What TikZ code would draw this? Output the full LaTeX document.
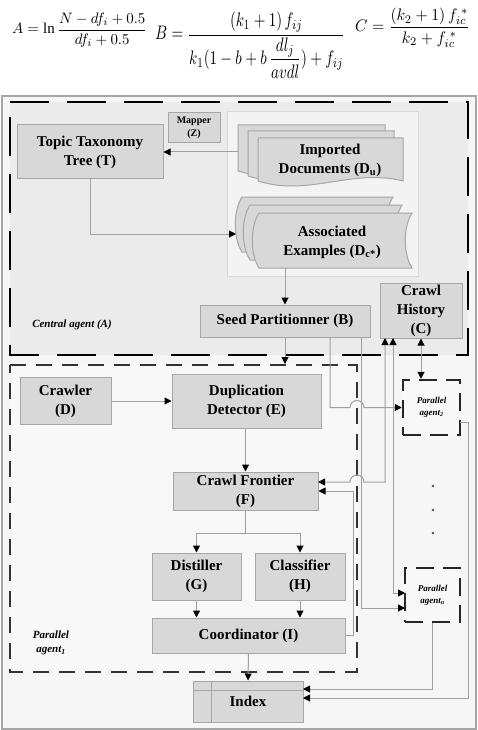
\documentclass[tikz,border=0pt]{standalone}
\usepackage{amsmath}
\usepackage{fontspec}
\setmainfont{Liberation Serif}
\usepackage{graphicx}
\usetikzlibrary{arrows.meta,calc}
\definecolor{boxfill}{HTML}{D8D8D8}
\definecolor{boxline}{HTML}{A6A6A6}
\definecolor{connc}{HTML}{A0A0A0}
\definecolor{centralfill}{HTML}{EBEBEB}
\definecolor{outerfill}{HTML}{F6F6F6}
\definecolor{agentfill}{HTML}{F8F8F8}
\definecolor{docarea}{HTML}{F3F3F3}
\newcommand\docsh[4]{\filldraw[docst] (#1,#2) -- (#3,#2) -- (#3,#4) .. controls +(-51,-13) and +(51,16) .. (#1,#4) -- cycle;}
\newcommand\stsh[4]{\filldraw[docst] ({#1+9},#2) -- (#3,#2) .. controls +(-9,14) and +(-9,-14) .. (#3,#4) -- ({#1+9},#4) .. controls +(-9,-14) and +(-9,14) .. ({#1+9},#2) -- cycle;}
\begin{document}
\begin{tikzpicture}[x=1pt,y=-1pt,
  >={Triangle[length=7pt,width=7pt,color=black]},
  box/.style={draw=boxline,fill=boxfill,line width=1pt,inner sep=0pt,align=center,
    font=\fontsize{15}{19}\selectfont\bfseries},
  docst/.style={draw=boxline,fill=boxfill,line width=1pt},
  conn/.style={draw=connc,line width=1pt},
  pbox/.style={draw=black!85,fill=agentfill,line width=2.5pt,dash pattern=on 18pt off 9pt,
    inner sep=0pt,align=center,font=\fontsize{9}{12}\selectfont\bfseries\itshape},
  lbl/.style={inner sep=0pt,align=center,font=\fontsize{11}{14}\selectfont\bfseries\itshape}]
\useasboundingbox (0,0) rectangle (478,730);
\fill[white] (0,0) rectangle (478,730);
% formulas
\node[anchor=west,inner sep=0pt] (fa) at (12,30) {\resizebox*{135pt}{34pt}{$\displaystyle A=\ln\frac{N-df_i+0.5}{df_i+0.5}$}};
\node[anchor=west,inner sep=0pt] (fb) at (155,45) {\resizebox*{190pt}{66pt}{$\displaystyle B=\frac{(k_1+1)\,f_{ij}}{k_1(1-b+b\,\dfrac{dl_j}{avdl})+f_{ij}}$}};
\node[anchor=west,inner sep=0pt] (fc) at (355,28) {\resizebox*{115pt}{40pt}{$\displaystyle C=\frac{(k_2+1)\,f_{ic}^{\;*}}{k_2+f_{ic}^{\;*}}$}};
% backgrounds
\filldraw[fill=outerfill,draw=boxline,line width=1.5pt] (2,96) rectangle (476,729);
\fill[centralfill] (10,102) rectangle (468,355);
\filldraw[fill=docarea,draw=gray!30,line width=1pt] (227,112) rectangle (418,276);
\fill[agentfill] (10,365) rectangle (357,672);
\draw[black,line width=2.5pt,dash pattern=on 39pt off 18pt] (10,102) -- (468,102) -- (468,355) -- (10,355) -- cycle;
\draw[black!80,line width=2.5pt,dash pattern=on 16pt off 10pt] (10,365) -- (357,365) -- (357,672) -- (10,672) -- cycle;
% document stacks
\docsh{238}{125}{385}{171}
\docsh{248}{131}{394}{176}
\docsh{258}{138}{403}{181}
\stsh{233}{197}{393}{252}
\stsh{241}{205}{402}{260}
\stsh{250}{213}{412}{268}
\node[inner sep=0pt,align=center,font=\fontsize{15}{19}\selectfont\bfseries] (Du) at (330,160) {Imported\\Documents (D\textsubscript{u})};
\node[inner sep=0pt,align=center,font=\fontsize{15}{19}\selectfont\bfseries] (Dc) at (332,242) {Associated\\Examples (D\textsubscript{c*})};
% boxes
\node[box,minimum width=146pt,minimum height=54pt] (T) at (90,152) {Topic Taxonomy\\Tree (T)};
\node[box,minimum width=52pt,minimum height=30pt,font=\fontsize{10}{13}\selectfont\bfseries] (Z) at (194,128) {Mapper\\(Z)};
\node[box,minimum width=170pt,minimum height=32pt] (B) at (285,321) {Seed Partitionner (B)};
\node[box,minimum width=82pt,minimum height=55pt] (C) at (421,310.5) {Crawl\\History\\(C)};
\node[box,minimum width=91pt,minimum height=47pt] (D) at (65.5,401) {Crawler\\(D)};
\node[box,minimum width=149pt,minimum height=54pt] (E) at (246.5,401) {Duplication\\Detector (E)};
\node[box,minimum width=145pt,minimum height=38pt] (F) at (245.5,491) {Crawl Frontier\\(F)};
\node[box,minimum width=89pt,minimum height=47pt] (G) at (196.5,576.5) {Distiller\\(G)};
\node[box,minimum width=90pt,minimum height=47pt] (H) at (300,576.5) {Classifier\\(H)};
\node[box,minimum width=193pt,minimum height=35pt] (I) at (248.5,635.5) {Coordinator (I)};
\node[box,minimum width=110pt,minimum height=41pt] (Ix) at (248,701.5) {Index};
\draw[draw=boxline,line width=1pt] ($(Ix.north west)+(19,0)$) -- ($(Ix.south west)+(19,0)$);
\draw[draw=boxline,line width=1pt] ($(Ix.north west)+(0,10)$) -- ($(Ix.north east)+(0,10)$);
\node[pbox,minimum width=57pt,minimum height=55pt] (P2) at (431.5,407.5) {Parallel\\agent\textsubscript{2}};
\node[pbox,minimum width=55pt,minimum height=54pt] (Pn) at (432.5,595) {Parallel\\agent\textsubscript{n}};
\node[lbl] (lblA) at (72,325) {Central agent (A)};
\node[lbl] (lbl1) at (51,643) {Parallel\\agent\textsubscript{1}};
\foreach \yy in {486,510,533} \fill[black!70] (433,\yy) circle[radius=1.3pt];
% connectors
\coordinate (duL) at (238,152);
\draw[conn,->] (duL) -- (T.east);
\coordinate (dcL) at (236,234);
\draw[conn,->] (T.south) |- (dcL);
\coordinate (dcB) at (285,268);
\draw[conn,->] (dcB) -- (B.north);
\coordinate (a1T) at (285,364);
\draw[conn,->] (B.south) -- (a1T);
\draw[conn,->] (D.east) -- (E.west);
\draw[conn,->] (F.north |- E.south) -- (F.north);
\coordinate (fj) at (245.5,533);
\draw[conn] (F.south) -- (fj);
\draw[conn,->] (fj) -| (G.north);
\draw[conn,->] (fj) -| (H.north);
\draw[conn,->] (G.south) -- (G.south |- I.north);
\draw[conn,->] (H.south) -- (H.south |- I.north);
\draw[conn,->] (I.south) -- (Ix.north);
\coordinate (b2) at (330,337);
\draw[conn,->] (b2) -- (330,407.5) -- (350,407.5) arc[start angle=180,end angle=0,radius=7pt] -- (P2.west);
\coordinate (b3) at (361,337);
\coordinate (pnW2) at (405,608);
\draw[conn,->] (b3) |- (pnW2);
\coordinate (fE1) at (318,482);
\coordinate (cS1) at (385,338);
\draw[conn,<->] (fE1) -- (350,482) arc[start angle=180,end angle=0,radius=7pt] -- (385,482) -- (cS1);
\draw[conn,->] (I.east) -- ++(8,0) |- (F.east);
\coordinate (cS2) at (393,338);
\coordinate (pnW1) at (405,593);
\draw[conn,<->] (cS2) |- (pnW1);
\draw[conn,<->] (C.south) -- (C.south |- P2.north);
\coordinate (p2E) at (460,422);
\coordinate (ixE2) at (303,698);
\draw[conn,->] (p2E) -- (468,422) |- (ixE2);
\coordinate (ixE1) at (303,689);
\draw[conn,->] (Pn.south) |- (ixE1);
\end{tikzpicture}
\end{document}
